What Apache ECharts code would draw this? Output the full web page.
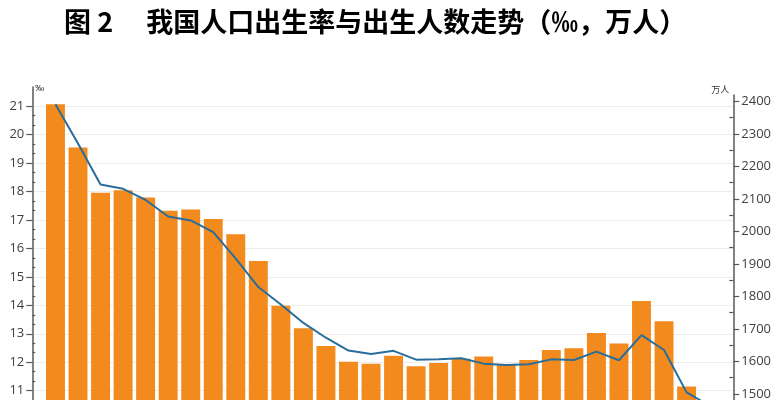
<!DOCTYPE html>
<html>
<head>
<meta charset="utf-8">
<script src="https://cdn.jsdelivr.net/npm/echarts@6/dist/echarts.min.js"></script>
<style>
html,body{margin:0;padding:0;background:#fff;}
#c{width:779px;height:400px;}
</style>
</head>
<body>
<div id="c"></div>
<script>
const years = ['1990','1991','1992','1993','1994','1995','1996','1997','1998','1999',
  '2000','2001','2002','2003','2004','2005','2006','2007','2008','2009',
  '2010','2011','2012','2013','2014','2015','2016','2017','2018','2019'];
// 出生率 (‰) — line, left axis
const birthRate = [21.06,19.68,18.24,18.09,17.70,17.12,16.98,16.57,15.64,14.64,
  14.03,13.38,12.86,12.41,12.29,12.40,12.09,12.10,12.14,11.95,
  11.90,11.93,12.10,12.08,12.37,12.07,12.95,12.43,10.94,10.48];
// 出生人数 (万人) — bars, right axis
const births = [2391,2258,2119,2126,2104,2063,2067,2038,1991,1909,
  1771,1702,1647,1599,1593,1617,1585,1595,1608,1615,
  1592,1604,1635,1640,1687,1655,1786,1723,1523,1465];
const titleText = '图 2\u3000 我国人口出生率与出生人数走势（‰，万人）';
const leftUnit = '‰';
const rightUnit = '万人';

const chart = echarts.init(document.getElementById('c'), null, {renderer:'canvas'});
const axisColor = '#595959';
const labelColor = '#404040';
const labelFont = {fontSize:13, color:labelColor, fontFamily:'Open Sans'};
const plain = v => String(Math.round(v));
const axL = 32.3, axR = 779 - 733.3;
const gBase = {left:axL, right:axR, outerBoundsMode:'none', containLabel:false};

const option = {
  backgroundColor:'#fff',
  animation:false,
  title:{
    text:titleText, left:59, top:3,
    textStyle:{fontSize:27, fontWeight:'bold', color:'#000', fontFamily:'Noto Sans CJK SC'}
  },
  grid:[
    Object.assign({top:87, height:389.1}, gBase),     // left axis line
    Object.assign({top:95, height:381.1}, gBase),     // right axis line
    Object.assign({top:106, height:370.1}, gBase),    // left ticks/labels/grid lines
    Object.assign({top:101.3, height:357.5}, gBase),  // right ticks/labels
    {left:44.2, right:58.6, top:87, height:389.1, outerBoundsMode:'none', containLabel:false} // series
  ],
  xAxis:[
    {gridIndex:0, type:'category', data:years, show:false},
    {gridIndex:1, type:'category', data:years, show:false},
    {gridIndex:2, type:'category', data:years, show:false},
    {gridIndex:3, type:'category', data:years, show:false},
    {gridIndex:4, type:'category', data:years,
      axisLine:{lineStyle:{color:axisColor}}, axisTick:{show:false},
      axisLabel:{color:labelColor}}
  ],
  yAxis:[
    {gridIndex:0, type:'value', position:'left', min:8, max:21.667,
      axisLine:{show:true, lineStyle:{color:axisColor, width:1.5}},
      axisTick:{show:false}, axisLabel:{show:false}, splitLine:{show:false},
      name:leftUnit, nameLocation:'end', nameGap:-2,
      nameTextStyle:{fontSize:9, color:'#333', align:'left', verticalAlign:'middle', padding:[0,0,0,3]}},
    {gridIndex:1, type:'value', position:'right', min:1247, max:2419.4,
      axisLine:{show:true, lineStyle:{color:axisColor, width:1.5}},
      axisTick:{show:false}, axisLabel:{show:false}, splitLine:{show:false},
      name:rightUnit, nameLocation:'end', nameGap:5,
      nameTextStyle:{fontSize:9, color:'#333', align:'right', verticalAlign:'middle', padding:[0,4,0,0], fontFamily:'Noto Sans CJK SC'}},
    {gridIndex:2, type:'value', position:'left', min:8, max:21, interval:1,
      axisLine:{show:false},
      axisTick:{show:true, length:6, lineStyle:{color:axisColor, width:1.2}},
      axisLabel:Object.assign({margin:8, formatter:plain}, labelFont),
      splitLine:{show:true, lineStyle:{color:'#ececec', width:1}}},
    {gridIndex:2, type:'value', position:'left', min:8, max:21, interval:1,
      axisLine:{show:false},
      axisTick:{show:false, inside:true},
      minorTick:{show:true, splitNumber:3, length:3, lineStyle:{color:axisColor, width:1.2}},
      axisLabel:{show:false}, splitLine:{show:false}},
    {gridIndex:3, type:'value', position:'right', min:1300, max:2400, interval:100,
      axisLine:{show:false},
      axisTick:{show:true, length:6, lineStyle:{color:axisColor, width:1.2}},
      axisLabel:Object.assign({margin:8, formatter:plain}, labelFont),
      splitLine:{show:false}},
    {gridIndex:3, type:'value', position:'right', min:1300, max:2400, interval:100,
      axisLine:{show:false},
      axisTick:{show:false, inside:true},
      minorTick:{show:true, splitNumber:2, length:4, lineStyle:{color:axisColor, width:1.2}},
      axisLabel:{show:false}, splitLine:{show:false}},
    {gridIndex:4, type:'value', position:'left', min:8, max:21.667, show:false, splitLine:{show:false}},
    {gridIndex:4, type:'value', position:'right', min:1247, max:2444, show:false, splitLine:{show:false}}
  ],
  series:[
    {type:'bar', name:'出生人数', xAxisIndex:4, yAxisIndex:7, data:births,
      barCategoryGap:'16%', itemStyle:{color:'#f38a1e'}, z:2},
    {type:'line', name:'出生率', xAxisIndex:4, yAxisIndex:6, data:birthRate,
      symbol:'none', smooth:false, lineStyle:{color:'#2a6d9a', width:2}, z:3}
  ]
};
chart.setOption(option);
</script>
</body>
</html>
